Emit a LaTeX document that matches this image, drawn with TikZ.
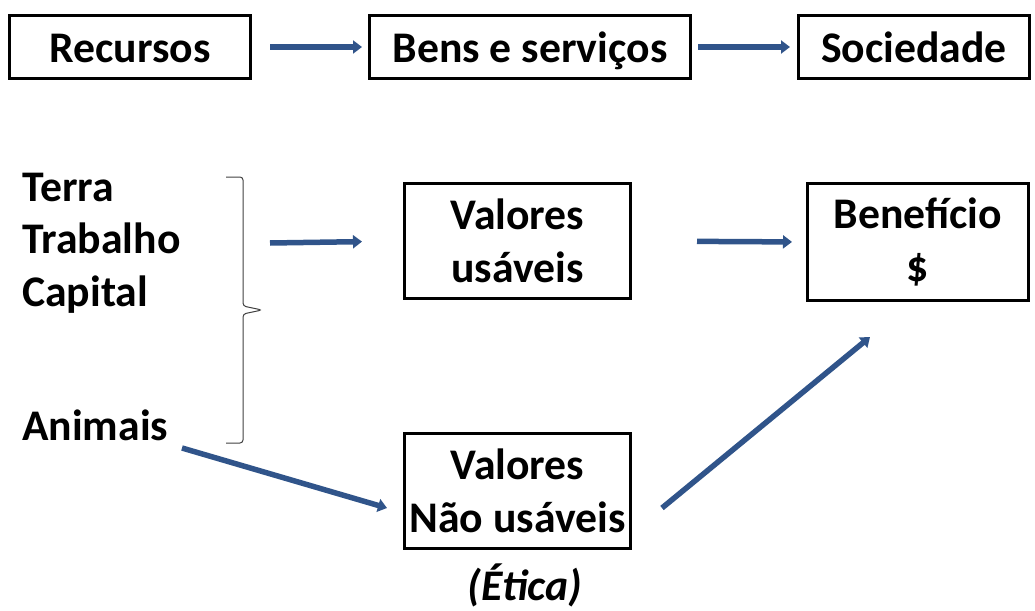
\documentclass[tikz,border=0pt]{standalone}
\usepackage{fontspec}
\setmainfont{Carlito}
\usepackage{xcolor}
\definecolor{arrowblue}{HTML}{30548A}
\usepackage{tikz}
\usetikzlibrary{arrows.meta, positioning, calc}

\newcommand{\bigtext}{\fontsize{43.7}{52.5}\selectfont\bfseries}

\tikzset{
  box/.style={draw, line width=3pt, inner sep=0pt, align=center, font=\bigtext},
  top box/.style={box, minimum height=63pt, text height=40pt, text depth=8pt},
  label text/.style={inner sep=0pt, align=left, font=\bigtext},
  flow/.style={line width=5.5pt, arrowblue, -{Triangle[length=9pt,width=13pt]}},
}

\begin{document}
\begin{tikzpicture}[x=1pt, y=-1pt]
  \useasboundingbox (0,0) rectangle (1035,610);

  % --- top row ---
  \node[top box, minimum width=241pt] (recursos) at (130,47) {Recursos};
  \node[top box, minimum width=321pt] (bens) at (530,47) {Bens e serviços};
  \node[top box, minimum width=231pt] (sociedade) at (914,47) {Sociedade};

  \draw[flow, shorten <=18pt, shorten >=6pt] (recursos.east) -- (bens.west);
  \draw[flow, shorten <=6pt, shorten >=7pt] (bens.east) -- (sociedade.west);

  % --- factors ---
  \node[label text, anchor=west] (fatores) at (22,243) {Terra\\Trabalho\\Capital};
  \node[label text, anchor=west] (animais) at (22,425) {Animais};

  % bracket
  \draw[line width=1pt, black!75, rounded corners=3pt]
    (226,177) -- (243,177) -- (243,306) -- (262,310) -- (243,314) -- (243,443) -- (226,443);

  % --- values ---
  \node[box, minimum width=226pt, minimum height=115pt] (usaveis) at (517.5,241) {Valores\\usáveis};
  \node[box, minimum width=221pt, minimum height=117pt] (beneficio) at (918,242) {Benefício\\\$};
  \node[box, minimum width=226pt, minimum height=115pt] (naousaveis) at (517.5,491) {Valores\\Não usáveis};
  \node[font=\bigtext\itshape, inner sep=0pt] (etica) at (525,585) {(Ética)};

  \coordinate (chave) at (270,243);
  \coordinate (animaisfim) at (182,448);
  \coordinate (naoentra) at (387,508);
  \coordinate (naosai) at (662,508);
  \coordinate (benentra) at (870,337);

  \draw[flow, shorten >=41pt] (chave) -- (usaveis.west);
  \draw[flow, shorten <=65pt, shorten >=14pt] (usaveis.east) -- (beneficio.west);
  \draw[flow] (animaisfim) -- (naoentra);
  \draw[flow] (naosai) -- (benentra);
\end{tikzpicture}
\end{document}
